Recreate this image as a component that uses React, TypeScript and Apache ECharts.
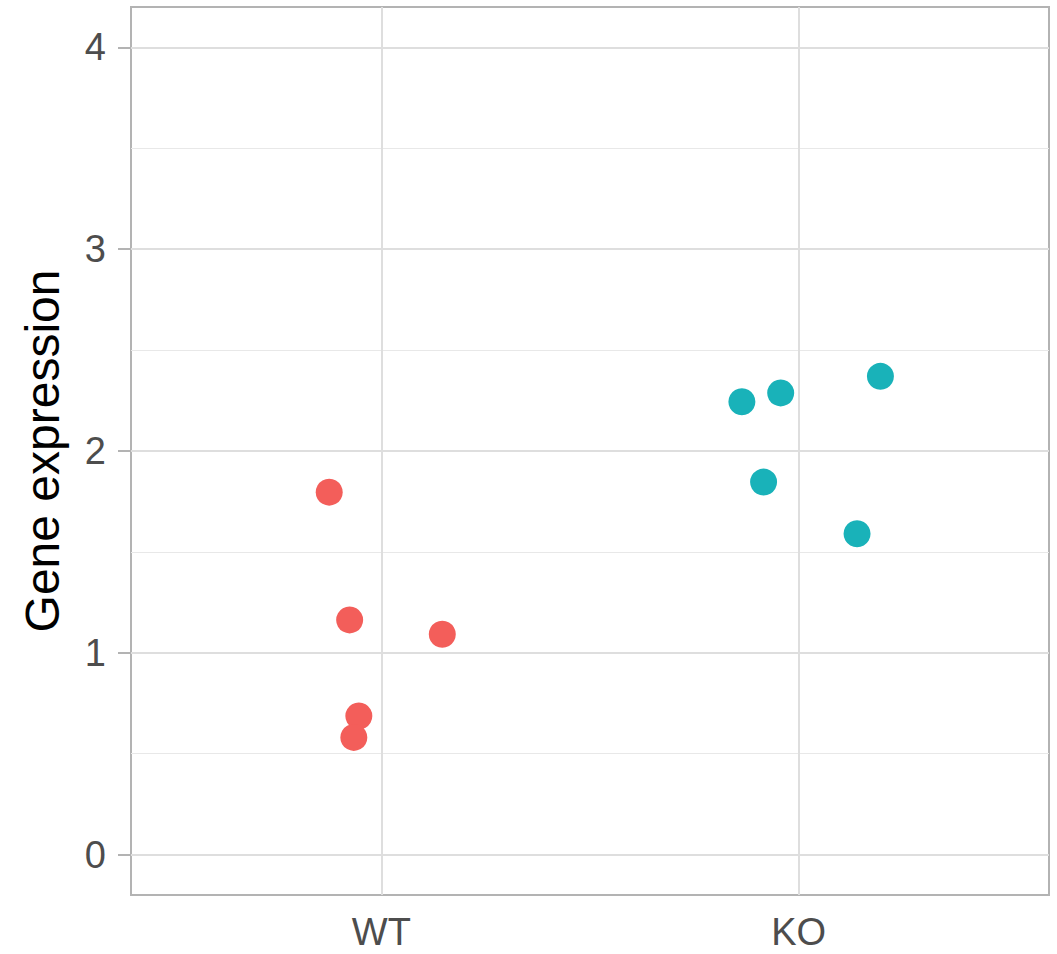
import React, { useEffect, useRef } from "react";
import * as echarts from "echarts";

const categories = ["WT", "KO"];
const categoryPos = [1, 2];
const wtX = [0.875, 0.924, 1.146, 0.946, 0.934];
const wtY = [1.796, 1.163, 1.092, 0.687, 0.581];
const koX = [1.864, 1.957, 2.196, 1.916, 2.14];
const koY = [2.244, 2.288, 2.37, 1.846, 1.59];
const yTicks = [0, 1, 2, 3, 4];
const yMinor = [0.5, 1.5, 2.5, 3.5];

export default function App() {
  const ref = useRef<HTMLDivElement>(null);
  useEffect(() => {
    if (!ref.current) return;
    const chart = echarts.init(ref.current, undefined, { renderer: "svg" });
    const major = { color: "#DEDEDE", width: 2, type: "solid" };
    const minor = { color: "#E8E8E8", width: 1, type: "solid" };
    const font = "'Liberation Sans', Arial, sans-serif";
    chart.setOption({
      animation: false,
      backgroundColor: "#FFFFFF",
      grid: {
        left: 131,
        top: 7,
        right: 8,
        bottom: 59,
        show: true,
        borderColor: "#B3B3B3",
        borderWidth: 2,
        containLabel: false,
      },
      xAxis: {
        type: "value",
        min: 0.4,
        max: 2.6,
        axisLine: { show: false },
        splitLine: { show: false },
        axisTick: {
          show: true,
          customValues: categoryPos,
          length: 12,
          lineStyle: { color: "#B3B3B3", width: 2 },
        },
        axisLabel: {
          customValues: categoryPos,
          formatter: (v: number) => categories[categoryPos.indexOf(v)] ?? "",
          color: "#4D4D4D",
          fontSize: 38,
          fontFamily: font,
          margin: 18,
        },
      },
      yAxis: {
        type: "value",
        min: -0.2,
        max: 4.2,
        name: "Gene expression",
        nameLocation: "middle",
        nameGap: 65,
        nameTextStyle: { color: "#000000", fontSize: 48, fontFamily: font },
        axisLine: { show: false },
        splitLine: { show: false },
        axisTick: {
          show: true,
          customValues: yTicks,
          length: 13,
          lineStyle: { color: "#B3B3B3", width: 2 },
        },
        axisLabel: {
          customValues: yTicks,
          color: "#4D4D4D",
          fontSize: 38,
          fontFamily: font,
          margin: 25,
        },
      },
      series: [
        {
          type: "scatter",
          data: [],
          z: 1,
          markLine: {
            silent: true,
            symbol: "none",
            label: { show: false },
            animation: false,
            data: [
              ...yMinor.map((v) => ({ yAxis: v, lineStyle: minor })),
              ...yTicks.map((v) => ({ yAxis: v, lineStyle: major })),
              ...categoryPos.map((v) => ({ xAxis: v, lineStyle: major })),
            ],
          },
        },
        {
          name: "WT",
          type: "scatter",
          z: 5,
          symbolSize: 27,
          itemStyle: { color: "#F35E5A", opacity: 1 },
          data: wtX.map((x, i) => [x, wtY[i]]),
        },
        {
          name: "KO",
          type: "scatter",
          z: 5,
          symbolSize: 27,
          itemStyle: { color: "#19B2B9", opacity: 1 },
          data: koX.map((x, i) => [x, koY[i]]),
        },
      ],
    });
    return () => chart.dispose();
  }, []);
  return (
    <div
      ref={ref}
      style={{ position: "absolute", left: 0, top: 0, width: 1057, height: 954 }}
    />
  );
}
